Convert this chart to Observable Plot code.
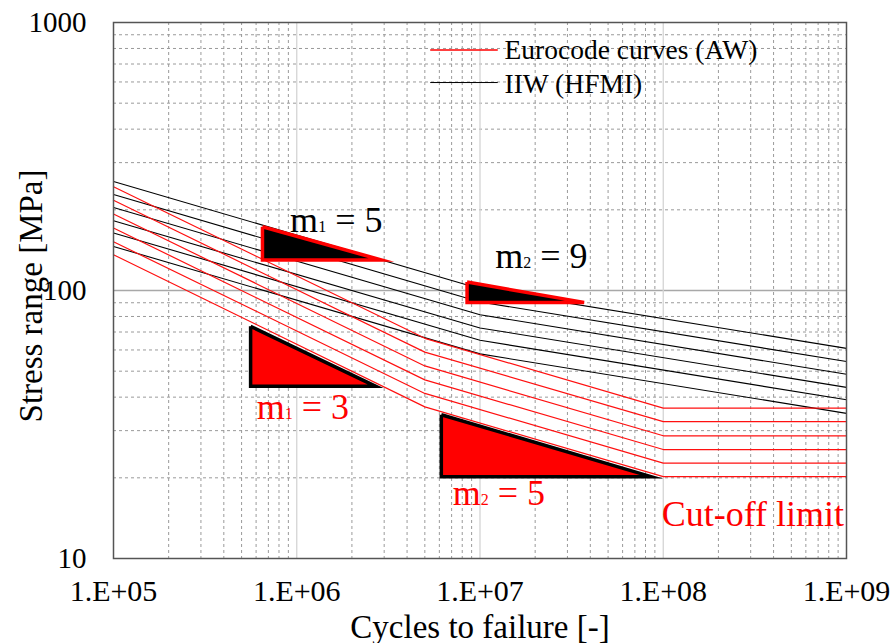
<!DOCTYPE html>
<html><head><meta charset="utf-8">
<script src="https://cdn.jsdelivr.net/npm/d3@7"></script>
<script src="https://cdn.jsdelivr.net/npm/@observablehq/plot@0.6"></script>
<style>body{margin:0;background:#fff}#chart svg{display:block}</style>
</head><body><div id="chart"></div>
<script>
// ---- data ----
const cyclesEC = [1e5, 5e6, 1e8, 1e9];
const fatEC = [90, 80, 71, 63, 56, 50];
const stressEC = [
  [244, 66.3, 36.4, 36.4],
  [217, 58.9, 32.4, 32.4],
  [193, 52.3, 28.7, 28.7],
  [171, 46.4, 25.5, 25.5],
  [152, 41.3, 22.7, 22.7],
  [136, 36.8, 20.2, 20.2]
];
const cyclesIIW = [1e5, 1e7, 1e9];
const fatIIW = [140, 125, 112, 100, 90, 80];
const stressIIW = [
  [255, 101.5, 60.8],
  [228, 90.6, 54.3],
  [204, 81.2, 48.7],
  [182, 72.5, 43.5],
  [164, 65.2, 39.1],
  [146, 58.0, 34.8]
];
// slope triangles (vertices)
const triLabels = ["m1 = 5", "m2 = 9", "m1 = 3", "m2 = 5"];
const triCycles = [[6.5e5, 6.5e5, 2.9e6], [8.5e6, 8.5e6, 3.7e7], [5.6e5, 5.6e5, 2.7e6], [6.15e6, 6.15e6, 8.6e7]];
const triStress = [[173, 130, 130], [107.5, 90.3, 90.3], [73.5, 43.9, 43.9], [34.4, 20.2, 20.2]];
const xTicks = [1e5, 1e6, 1e7, 1e8, 1e9];
const xTickLabels = ["1.E+05", "1.E+06", "1.E+07", "1.E+08", "1.E+09"];
const yTicks = [10, 100, 1000];
const yTickLabels = ["10", "100", "1000"];
const seriesNames = ["Eurocode curves (AW)", "IIW (HFMI)"];

// ---- annotation layout (data units) ----
const slopeText = [
  {t: "m|1| = 5", x: 9.2e5, y: 165, c: "black"},
  {t: "m|2| = 9", x: 1.21e7, y: 121, c: "black"},
  {t: "m|1| = 3", x: 6.05e5, y: 33.2, c: "red"},
  {t: "m|2| = 5", x: 7.1e6, y: 15.8, c: "red"}
];
const legendLayout = [
  {x1: 5.35e6, x2: 1.25e7, yl: 790, xt: 1.36e7, yt: 730, c: "red", w: 1.5},
  {x1: 5.35e6, x2: 1.25e7, yl: 597, xt: 1.36e7, yt: 548, c: "black", w: 1}
];

const ecRows = fatEC.flatMap((fat, i) => cyclesEC.map((N, j) => ({fat, N, S: stressEC[i][j]})));
const iiwRows = fatIIW.flatMap((fat, i) => cyclesIIW.map((N, j) => ({fat, N, S: stressIIW[i][j]})));
const triRows = (idx) => idx.flatMap(i => [0, 1, 2, 0].map(k => ({id: i, N: triCycles[i][k], S: triStress[i][k]})));

const decades = [1e5, 1e6, 1e7, 1e8];
const minorX = decades.flatMap(d => [2,3,4,5,6,7,8,9].map(m => d * m));
const minorY = [10, 100].flatMap(d => [2,3,4,5,6,7,8,9].map(m => d * m));

const FONT = "'Liberation Serif', 'Times New Roman', serif";
const legendRows = seriesNames.map((name, i) => ({name, ...legendLayout[i]}));

const chart = Plot.plot({
  width: 891, height: 643,
  marginLeft: 113, marginRight: 45, marginTop: 22, marginBottom: 85,
  x: {type: "log", domain: [1e5, 1e9]},
  y: {type: "log", domain: [10, 1000]},
  color: {type: "identity"},
  style: {fontFamily: FONT, background: "white", color: "black"},
  marks: [
    Plot.ruleY(minorY, {stroke: "#9a9a9a", strokeDasharray: "3,3", strokeWidth: 1}),
    Plot.ruleX(minorX, {stroke: "#9a9a9a", strokeDasharray: "3,3", strokeWidth: 1}),
    Plot.ruleY([100], {stroke: "#a8a8a8", strokeWidth: 1.3}),
    Plot.ruleX([1e6, 1e7, 1e8], {stroke: "#d4d4d4", strokeWidth: 1.3}),
    Plot.line(iiwRows, {x: "N", y: "S", z: "fat", stroke: "black", strokeWidth: 1.1}),
    Plot.line(ecRows, {x: "N", y: "S", z: "fat", stroke: "#ff1010", strokeWidth: 1.2}),
    Plot.line(triRows([0, 1]), {x: "N", y: "S", z: "id", fill: "black", stroke: "red", strokeWidth: 3.5, strokeLinejoin: "miter", strokeMiterlimit: 10, strokeLinecap: "butt"}),
    Plot.line(triRows([2, 3]), {x: "N", y: "S", z: "id", fill: "red", stroke: "black", strokeWidth: 3.5, strokeLinejoin: "miter", strokeMiterlimit: 10, strokeLinecap: "butt"}),
    Plot.text(slopeText, {x: "x", y: "y", text: "t", fill: "c", fontSize: 36, textAnchor: "start", lineAnchor: "bottom"}),
    Plot.text(["Cut-off limit"], {x: [9.8e7], y: [13.2], text: d => d, fill: "red", fontSize: 36, textAnchor: "start", lineAnchor: "bottom"}),
    Plot.link(legendRows, {x1: "x1", x2: "x2", y1: "yl", y2: "yl", stroke: "c", strokeWidth: "w"}),
    Plot.text(legendRows, {x: "xt", y: "yt", text: "name", fill: "black", fontSize: 27.5, textAnchor: "start", lineAnchor: "bottom"}),
    Plot.frame({stroke: "#555", strokeWidth: 1.5}),
    Plot.axisX({ticks: xTicks, tickFormat: d => xTickLabels[xTicks.indexOf(d)], tickSize: 0, tickPadding: 21, fontSize: 30, label: null}),
    Plot.axisY({ticks: yTicks, tickFormat: d => yTickLabels[yTicks.indexOf(d)], tickSize: 0, tickPadding: 27, fontSize: 29, label: null}),
    Plot.text(["Cycles to failure [-]"], {frameAnchor: "bottom", dy: 79, lineAnchor: "bottom", fontSize: 33, text: d => d})
  ]
});

const svg = d3.select(chart);
// subscripts
svg.selectAll("text").filter(function() { return this.textContent.includes("|"); }).each(function() {
  const parts = this.textContent.split("|");
  const t = d3.select(this);
  t.text("");
  t.append("tspan").text(parts[0]);
  t.append("tspan").attr("font-size", 16).text(parts[1]);
  t.append("tspan").text(parts[2]);
});
// y axis title
svg.append("text")
  .attr("transform", "translate(42,296) rotate(-90)")
  .attr("text-anchor", "middle")
  .attr("font-family", FONT)
  .attr("font-size", 33)
  .attr("fill", "black")
  .text("Stress range [MPa]");
document.getElementById("chart").appendChild(chart);
</script>
</body></html>
